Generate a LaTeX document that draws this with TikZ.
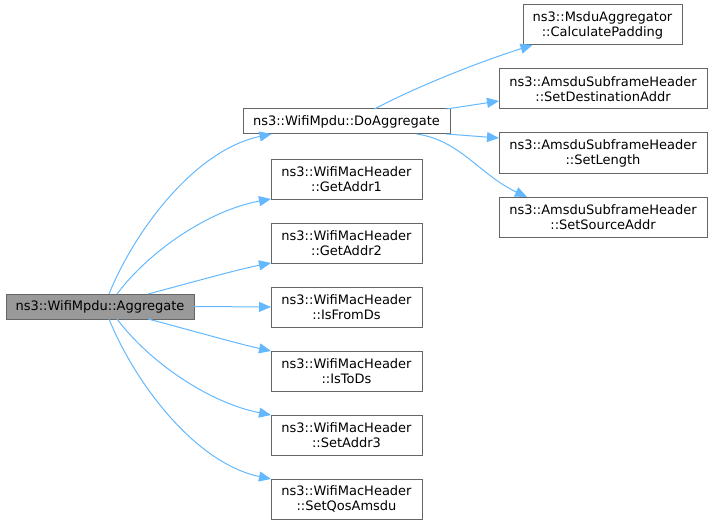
\documentclass[tikz,border=0pt]{standalone}
\usepackage{fontspec}
\setmainfont{DejaVu Sans}
\usetikzlibrary{positioning,arrows.meta}
\definecolor{edgeblue}{HTML}{63B8FF}
\definecolor{boxgray}{HTML}{666666}
\definecolor{curgray}{HTML}{999999}

\begin{document}
\begin{tikzpicture}[x=1pt,y=-1pt,>={Triangle[length=12pt,width=10pt]},
  fn/.style={draw=boxgray,fill=white,line width=1pt,align=center,inner sep=0pt,outer sep=0pt,
    minimum height=40pt,font=\fontsize{13}{15}\selectfont},
  call/.style={->,draw=edgeblue,line width=1pt}]

\useasboundingbox (0,0) rectangle (712,524);

\node[fn,fill=curgray,minimum width=188pt,minimum height=25pt] (agg) at (100,306.5) {ns3::WifiMpdu::Aggregate};
\node[fn,minimum width=207pt,minimum height=25pt] (doagg) at (346.5,121.5) {ns3::WifiMpdu::DoAggregate};

\node[fn,minimum width=151pt] (addr1) at (346.5,179) {ns3::WifiMacHeader\\::GetAddr1};
\node[fn,minimum width=151pt,below=24pt of addr1] (addr2) {ns3::WifiMacHeader\\::GetAddr2};
\node[fn,minimum width=151pt,below=24pt of addr2] (fromds) {ns3::WifiMacHeader\\::IsFromDs};
\node[fn,minimum width=151pt,below=24pt of fromds] (tods) {ns3::WifiMacHeader\\::IsToDs};
\node[fn,minimum width=151pt,below=24pt of tods] (addr3) {ns3::WifiMacHeader\\::SetAddr3};
\node[fn,minimum width=151pt,below=24pt of addr3] (qos) {ns3::WifiMacHeader\\::SetQosAmsdu};

\node[fn,minimum width=159pt] (pad) at (602.5,25) {ns3::MsduAggregator\\::CalculatePadding};
\node[fn,minimum width=208pt] (dest) at (603,89) {ns3::AmsduSubframeHeader\\::SetDestinationAddr};
\node[fn,minimum width=208pt,below=24pt of dest] (len) {ns3::AmsduSubframeHeader\\::SetLength};
\node[fn,minimum width=208pt,below=24pt of len] (src) {ns3::AmsduSubframeHeader\\::SetSourceAddr};

\draw[call] ([xshift=9pt]agg.north) .. controls (135,230) and (195,150) .. ([xshift=-75pt]doagg.south);
\draw[call] ([xshift=17pt]agg.north) .. controls (150,250) and (210,210) .. (addr1.south west);
\draw[call] ([xshift=48pt]agg.north) .. controls (190,283) and (235,270) .. (addr2.south west);
\draw[call] (agg.east) -- (fromds.west);
\draw[call] ([xshift=48pt]agg.south) .. controls (190,330) and (235,343) .. (tods.north west);
\draw[call] ([xshift=17pt]agg.south) .. controls (150,363) and (210,403) .. (addr3.north west);
\draw[call] ([xshift=9pt]agg.south) .. controls (135,383) and (195,463) .. (qos.north west);

\draw[call] ([xshift=28pt]doagg.north) .. controls (410,90) and (470,65) .. ([xshift=-70pt]pad.south);
\draw[call] ([xshift=100pt]doagg.north) -- ([yshift=8pt]dest.south west);
\draw[call] ([xshift=100pt]doagg.south) -- ([yshift=-5pt]len.north west);
\draw[call] ([xshift=70pt]doagg.south) .. controls (460,140) and (480,175) .. ([xshift=-76pt]src.north);
\end{tikzpicture}
\end{document}
